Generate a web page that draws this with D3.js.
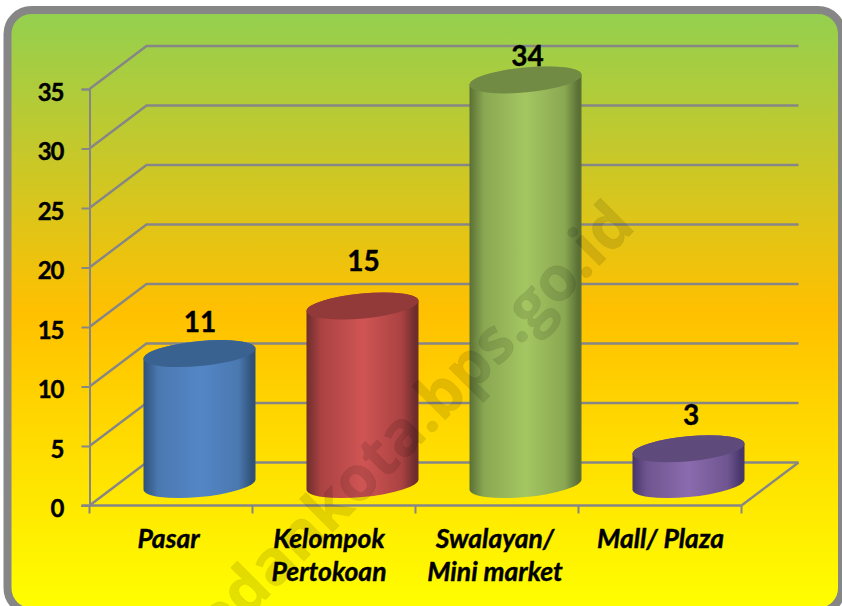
<!DOCTYPE html>
<html>
<head>
<meta charset="utf-8">
<script src="https://cdn.jsdelivr.net/npm/d3@7/dist/d3.min.js"></script>
<style>html,body{margin:0;padding:0;background:#fff;overflow:hidden}svg{display:block}</style>
</head>
<body>
<svg id="c" width="842" height="606"></svg>
<script>
const categories = [["Pasar"], ["Kelompok", "Pertokoan"], ["Swalayan/", "Mini market"], ["Mall/ Plaza"]];
const values = [11, 15, 34, 3];
const yTicks = [0, 5, 10, 15, 20, 25, 30, 35];
const bodyDark = ["#2f5177", "#6e2d2d", "#5a7035", "#47366a"];
const bodyMid = ["#4a78b0", "#ab4242", "#8aa852", "#6f5590"];
const bodyLight = ["#5486c7", "#cf5554", "#a4c661", "#8b6bae"];
const capColor = ["#3a6291", "#92393a", "#728b44", "#5f4a7c"];
const watermark = "medankota.bps.go.id";
const labelLift = [21.5, 35, 14, 24];
const labelShift = [0.5, 1, 2, 2.5];
const catShift = [-2.5, -5, -2, 0.5];

const svg = d3.select("#c");
const defs = svg.append("defs");

const bg = defs.append("linearGradient").attr("id", "bg").attr("x1", 0).attr("y1", 0).attr("x2", 0).attr("y2", 1);
[[0, "#92d050"], [0.5, "#ffc000"], [1, "#ffff00"]].forEach(s => bg.append("stop").attr("offset", s[0]).attr("stop-color", s[1]));

svg.append("rect").attr("x", 7.5).attr("y", 10).attr("width", 834.5).attr("height", 602).attr("rx", 24)
  .attr("fill", "url(#bg)").attr("stroke", "#868686").attr("stroke-width", 8);

const x = d3.scaleBand().domain(d3.range(categories.length)).range([89.5, 741.5]);
const y = d3.scaleLinear().domain([0, 35]).range([505.5, 89]);
const depthX = 57, depthY = 43;
const grey = "#868686";

const g = svg.append("g");
const gridLine = d3.line();
yTicks.forEach(t => {
  g.append("path").attr("fill", "none").attr("stroke", grey).attr("stroke-width", 2.4)
    .attr("d", gridLine([[x.range()[0], y(t)], [x.range()[0] + depthX, y(t) - depthY], [x.range()[1] + depthX, y(t) - depthY]]));
});
const yAxis = d3.axisLeft(y).tickValues(yTicks).tickSize(8).tickPadding(6);
const ya = g.append("g").attr("transform", `translate(${x.range()[0]},0)`).call(yAxis);
ya.selectAll("path,line").attr("stroke", grey).attr("stroke-width", 2);
ya.selectAll("text").attr("font-family", "Lato").attr("font-weight", 700).attr("font-size", 24)
  .attr("letter-spacing", -1).attr("fill", "#000").attr("stroke", "#000").attr("stroke-width", 0.4)
  .attr("dy", "0.46em").attr("dx", -12);

const xAxisG = g.append("g").attr("transform", `translate(0,${y(0)})`);
xAxisG.append("line").attr("x1", x.range()[0] - 8).attr("x2", x.range()[1]).attr("stroke", grey).attr("stroke-width", 2.4);
d3.range(categories.length + 1).forEach(i => {
  const px = x.range()[0] + i * x.step();
  xAxisG.append("line").attr("x1", px).attr("x2", px).attr("y1", 0).attr("y2", 8).attr("stroke", grey).attr("stroke-width", 2);
});
g.append("line").attr("x1", x.range()[1]).attr("y1", y(0)).attr("x2", x.range()[1] + depthX).attr("y2", y(0) - depthY)
  .attr("stroke", grey).attr("stroke-width", 2.4);

const a = 56.2, b = 12.5, tilt = -5.4, halfW = 56, skew = 5;
const baseOffsetY = 21, barShiftX = 28.5;
values.forEach((v, i) => {
  const gid = "cyl" + i;
  const gr = defs.append("linearGradient").attr("id", gid).attr("x1", 0).attr("x2", 1).attr("y1", 0).attr("y2", 0);
  [[0, bodyDark[i]], [0.13, bodyMid[i]], [0.5, bodyLight[i]], [0.85, bodyMid[i]], [0.97, bodyDark[i]], [1, bodyDark[i]]]
    .forEach(s => gr.append("stop").attr("offset", s[0]).attr("stop-color", s[1]));
  const cx = x(i) + x.bandwidth() / 2 + barShiftX;
  const yBase = y(0) - baseOffsetY;
  const yTop = y(v) - baseOffsetY;
  const body = `M${cx - halfW},${yTop + skew}L${cx - halfW},${yBase + skew}` +
    `A${a},${b} ${tilt} 0 0 ${cx + halfW},${yBase - skew}L${cx + halfW},${yTop - skew}` +
    `A${a},${b} ${tilt} 0 0 ${cx - halfW},${yTop + skew}Z`;
  g.append("path").attr("d", body).attr("fill", `url(#${gid})`);
  g.append("ellipse").attr("cx", 0).attr("cy", 0).attr("rx", a).attr("ry", b)
    .attr("transform", `translate(${cx},${yTop}) rotate(${tilt})`).attr("fill", capColor[i]);
  g.append("text").attr("x", cx + labelShift[i]).attr("y", yTop - labelLift[i]).attr("text-anchor", "middle")
    .attr("font-family", "Lato").attr("font-weight", 700).attr("font-size", 28).attr("fill", "#000")
    .attr("stroke", "#000").attr("stroke-width", 0.4).text(v);
});

categories.forEach((lines, i) => {
  const t = g.append("text").attr("text-anchor", "middle").attr("font-family", "Lato").attr("font-weight", 700)
    .attr("font-style", "italic").attr("font-size", 26.5).attr("fill", "#000")
    .attr("stroke", "#000").attr("stroke-width", 0.4);
  lines.forEach((l, j) => {
    t.append("tspan").attr("x", x(i) + x.bandwidth() / 2 + catShift[i]).attr("y", 548 + j * 33).text(l);
  });
});

svg.append("text").attr("transform", "translate(637,228) rotate(-45)").attr("text-anchor", "end")
  .attr("font-family", "Open Sans").attr("font-weight", 700).attr("font-size", 62)
  .attr("fill", "#000").attr("fill-opacity", 0.11).attr("stroke", "#000").attr("stroke-opacity", 0.05).attr("stroke-width", 1).text(watermark);
</script>
</body>
</html>
